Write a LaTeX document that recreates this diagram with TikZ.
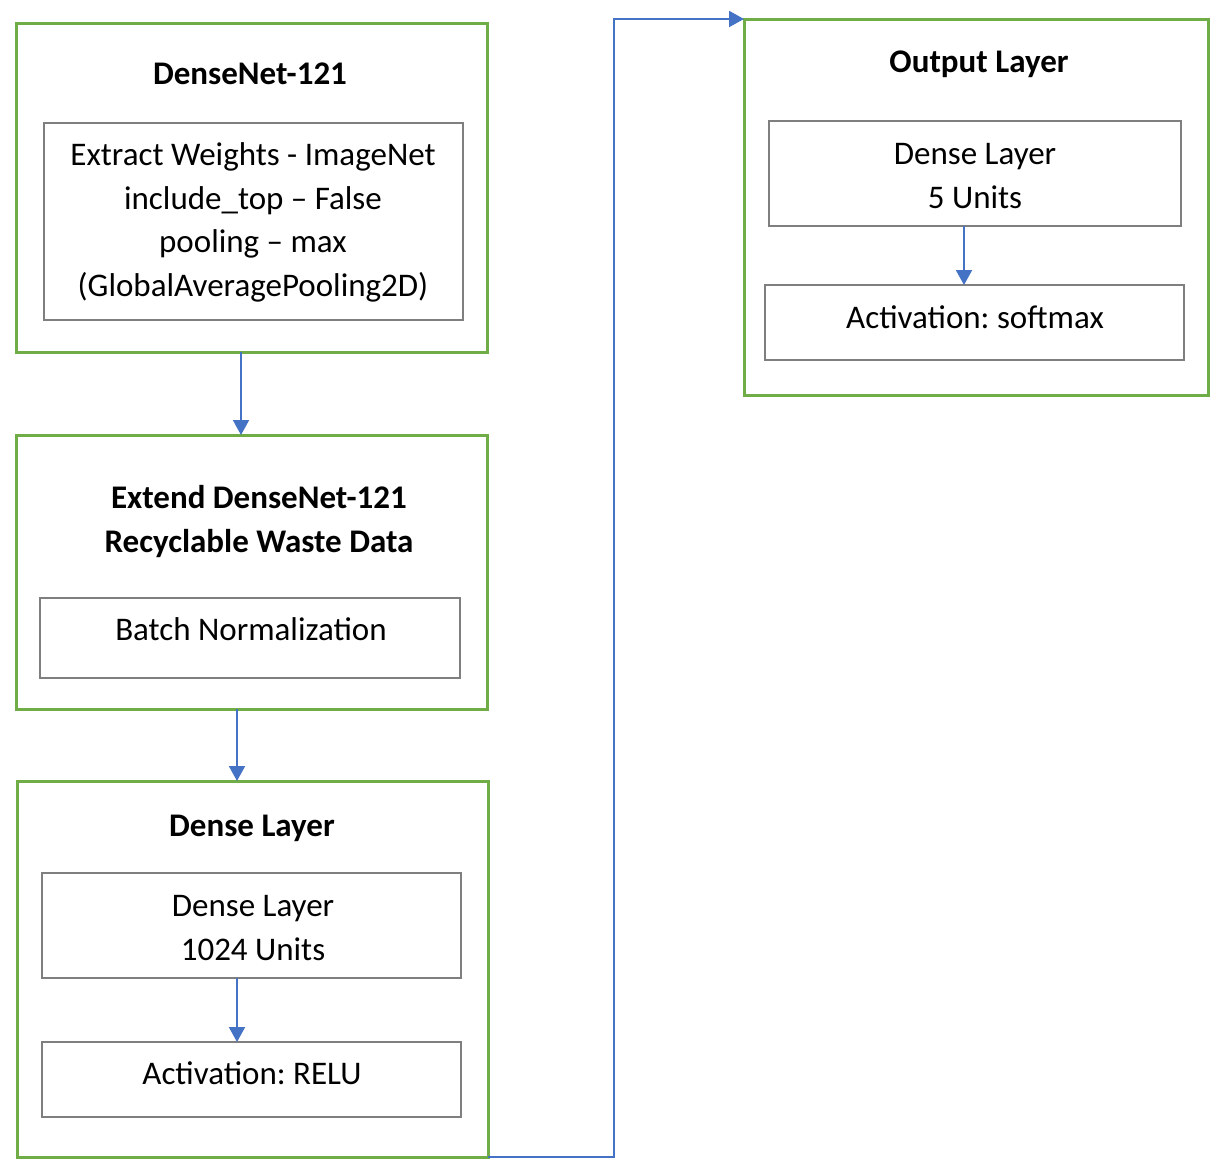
\documentclass[tikz,border=0pt]{standalone}
\usepackage{fontspec}
\setmainfont{Carlito}
\usetikzlibrary{arrows.meta}
\definecolor{offgreen}{HTML}{70AD47}
\definecolor{offblue}{HTML}{4472C4}
\definecolor{offgray}{HTML}{7F7F7F}
\frenchspacing
\begin{document}
\begin{tikzpicture}[x=1pt,y=-1pt,
  outerbox/.style={draw=offgreen,line width=3pt,inner sep=0pt,outer sep=0pt,anchor=north west},
  innerbox/.style={draw=offgray,line width=2pt,inner sep=0pt,outer sep=0pt,anchor=north west},
  txt/.style={anchor=base,inner sep=0pt,font=\fontsize{33}{44}\selectfont},
  ttl/.style={anchor=base,inner sep=0pt,font=\fontsize{33}{44}\selectfont\bfseries},
  arr/.style={draw=offblue,line width=2pt,-{Triangle[length=15pt,width=16pt]}},
  conn/.style={draw=offblue,line width=2pt}]
\useasboundingbox (0,0) rectangle (1222,1175);
% boxes
\node[outerbox,minimum width=471pt,minimum height=329pt] (b1) at (16,23) {};
\node[innerbox,minimum width=419pt,minimum height=197pt] (i1) at (44,123) {};
\node[outerbox,minimum width=471pt,minimum height=274pt] (b2) at (16,435) {};
\node[innerbox,minimum width=420pt,minimum height=80pt] (i2) at (40,598) {};
\node[outerbox,minimum width=471pt,minimum height=376pt] (b3) at (17,781) {};
\node[innerbox,minimum width=419pt,minimum height=105pt] (i3) at (42,873) {};
\node[innerbox,minimum width=419pt,minimum height=75pt] (i4) at (42,1042) {};
\node[outerbox,minimum width=464pt,minimum height=376pt] (b4) at (744,19) {};
\node[innerbox,minimum width=412pt,minimum height=105pt] (i5) at (769,121) {};
\node[innerbox,minimum width=419pt,minimum height=75pt] (i6) at (765,285) {};
% texts
\node[ttl] (t1) at (250,84) {DenseNet-121};
\node[txt] (l1) at (253,165.5) {Extract Weights - ImageNet};
\node[txt] (l2) at (253,209.5) {include\_top – False};
\node[txt] (l3) at (253,252.5) {pooling – max};
\node[txt] (l4) at (253,296.5) {(GlobalAveragePooling2D)};
\node[ttl] (t2a) at (259,508) {Extend DenseNet-121};
\node[ttl] (t2b) at (259,552) {Recyclable Waste Data};
\node[txt] (l5) at (251,640.5) {Batch Normalization};
\node[ttl] (t3) at (252,836) {Dense Layer};
\node[txt] (l6) at (253,916.5) {Dense Layer};
\node[txt] (l7) at (253,960.5) {1024 Units};
\node[txt] (l8) at (252,1084.5) {Activation: RELU};
\node[ttl] (t4) at (979,72) {Output Layer};
\node[txt] (l9) at (975,164.5) {Dense Layer};
\node[txt] (l10) at (975,208.5) {5 Units};
\node[txt] (l11) at (975,328.5) {Activation: softmax};
% connectors
\coordinate (a1) at (241,352);
\coordinate (a2) at (237,709);
\coordinate (a3) at (237,978);
\coordinate (a4) at (964,226);
\coordinate (elb) at (614,1157);
\draw[arr] (a1) -- (a1 |- b2.north);
\draw[arr] (a2) -- (a2 |- b3.north);
\draw[arr] (a3) -- (a3 |- i4.north);
\draw[arr] (a4) -- (a4 |- i6.north);
\draw[arr] (b3.south east) -- (b3.south east -| elb) |- (b4.north west);
\end{tikzpicture}
\end{document}
